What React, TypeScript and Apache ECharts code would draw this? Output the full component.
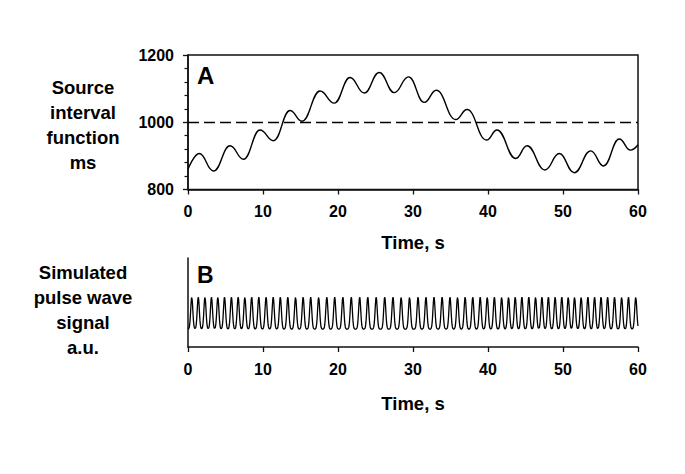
import React, { useEffect, useRef } from 'react';
import * as echarts from 'echarts';

// Panel A: source interval function (ms) — extremes
const sourceTimes = [0, 1.5, 3.4, 5.6, 7.4, 9.6, 11.4, 13.6, 15.2, 17.6, 19.5, 21.6, 23.5, 25.5, 27.5, 29.4, 31.5, 33.1, 35.7, 37.2, 39.8, 41.2, 43.7, 45.2, 47.6, 49.5, 51.5, 53.7, 55.4, 57.5, 59.0, 60];
const sourceValues = [860, 907, 855, 930, 890, 977, 945, 1035, 1003, 1093, 1057, 1133, 1087, 1148, 1088, 1135, 1059, 1095, 1008, 1038, 947, 977, 892, 930, 858, 907, 850, 915, 870, 950, 917, 933];
const referenceLevel = 1000;

// Panel B: pulse peak times (s)
const beatTimes = [0.5, 1.37, 2.26, 3.13, 3.98, 4.87, 5.79, 6.69, 7.58, 8.49, 9.44, 10.41, 11.36, 12.31, 13.31, 14.34, 15.35, 16.36, 17.42, 18.51, 19.56, 20.65, 21.77, 22.89, 23.97, 25.09, 26.23, 27.33, 28.42, 29.54, 30.67, 31.73, 32.8, 33.88, 34.93, 35.94, 36.95, 37.97, 38.96, 39.9, 40.85, 41.82, 42.74, 43.63, 44.52, 45.44, 46.34, 47.19, 48.05, 48.95, 49.84, 50.7, 51.54, 52.42, 53.32, 54.21, 55.07, 55.95, 56.87, 57.82, 58.73, 59.7];
const pulseBase = 0.2;
const pulsePeak = 0.56;

const timeTicks = [0, 10, 20, 30, 40, 50, 60];
const yTicksA = [800, 1000, 1200];

const FONT = 'Liberation Sans, Arial, sans-serif';

export default function App() {
  const ref = useRef<HTMLDivElement>(null);
  useEffect(() => {
    if (!ref.current) return;
    const chart = echarts.init(ref.current, null, { renderer: 'svg' });

    const sourceData = sourceTimes.map((t, i) => [t, sourceValues[i]]);
    const pulseData: number[][] = [];
    const sigma = 0.14;
    for (let k = 0; k <= 1500; k++) {
      const t = k * 0.04;
      let s = 0;
      for (const tb of beatTimes) {
        const u = (t - tb) / sigma;
        if (Math.abs(u) < 6) s += Math.exp(-0.5 * u * u);
      }
      pulseData.push([+t.toFixed(2), pulseBase + (pulsePeak - pulseBase) * s]);
    }

    const axisColor = '#111';
    const xAxisCommon = {
      type: 'value',
      min: timeTicks[0],
      max: timeTicks[timeTicks.length - 1],
      interval: timeTicks[1] - timeTicks[0],
      axisLine: { show: true, lineStyle: { color: axisColor, width: 1.5 } },
      axisTick: { show: true, inside: false, length: 5, lineStyle: { color: axisColor, width: 1.3 } },
      axisLabel: { show: true, margin: 14, color: '#000', fontSize: 16, fontWeight: 'bold', fontFamily: FONT, showMinLabel: true, showMaxLabel: true, formatter: (v: number) => String(v) },
      splitLine: { show: false },
    };

    const titleStyle = { fill: '#000', fontSize: 18.5, fontWeight: 'bold', fontFamily: FONT, textAlign: 'center', textVerticalAlign: 'middle', lineHeight: 25 };

    chart.setOption({
      animation: false,
      backgroundColor: '#fff',
      grid: [
        { left: 188, top: 55, width: 450, height: 134.5, show: true, borderColor: axisColor, borderWidth: 1.5, backgroundColor: 'transparent' },
        { left: 188, top: 258, width: 450, height: 89 },
      ],
      xAxis: [
        { ...xAxisCommon, gridIndex: 0 },
        { ...xAxisCommon, gridIndex: 1 },
      ],
      yAxis: [
        {
          type: 'value', gridIndex: 0,
          min: yTicksA[0], max: yTicksA[yTicksA.length - 1], interval: yTicksA[1] - yTicksA[0],
          axisLine: { show: true, lineStyle: { color: axisColor, width: 1.5 } },
          axisTick: { show: true, inside: false, length: 5, lineStyle: { color: axisColor, width: 1.3 } },
          minorTick: { show: true, splitNumber: 5, length: 3.5, lineStyle: { color: axisColor, width: 1.2 } },
          axisLabel: { show: true, margin: 14, color: '#000', fontSize: 16, fontWeight: 'bold', fontFamily: FONT, formatter: (v: number) => String(v) },
          splitLine: { show: false },
        },
        {
          type: 'value', gridIndex: 1, min: 0, max: 1,
          axisLine: { show: true, lineStyle: { color: axisColor, width: 1.5 } },
          axisTick: { show: false },
          axisLabel: { show: false },
          splitLine: { show: false },
        },
      ],
      series: [
        {
          type: 'line', xAxisIndex: 0, yAxisIndex: 0,
          data: sourceData,
          smooth: 0.45, smoothMonotone: 'x',
          showSymbol: false, symbol: 'none',
          lineStyle: { color: '#000', width: 1.4 },
          markLine: {
            silent: true, symbol: ['none', 'none'], label: { show: false },
            lineStyle: { color: '#000', width: 1.3, type: [11, 5] },
            data: [{ yAxis: referenceLevel }],
          },
          z: 3,
        },
        {
          type: 'line', xAxisIndex: 1, yAxisIndex: 1,
          data: pulseData,
          smooth: false, showSymbol: false, symbol: 'none',
          lineStyle: { color: '#000', width: 1.3 },
          z: 3,
        },
      ],
      graphic: [
        { type: 'text', left: 197, top: 63, style: { text: 'A', fill: '#000', fontSize: 24, fontWeight: 'bold', fontFamily: FONT } },
        { type: 'text', left: 197, top: 263, style: { text: 'B', fill: '#000', fontSize: 23, fontWeight: 'bold', fontFamily: FONT } },
        { type: 'text', x: 83, y: 124.5, style: { ...titleStyle, text: 'Source\ninterval\nfunction\nms' } },
        { type: 'text', x: 83, y: 309.5, style: { ...titleStyle, text: 'Simulated\npulse wave\nsignal\na.u.' } },
        { type: 'text', x: 413, y: 242, style: { ...titleStyle, text: 'Time, s' } },
        { type: 'text', x: 413, y: 403, style: { ...titleStyle, text: 'Time, s' } },
      ],
    });

    return () => chart.dispose();
  }, []);

  return <div ref={ref} style={{ position: 'fixed', left: 0, top: 0, width: 685, height: 474, background: '#fff' }} />;
}
